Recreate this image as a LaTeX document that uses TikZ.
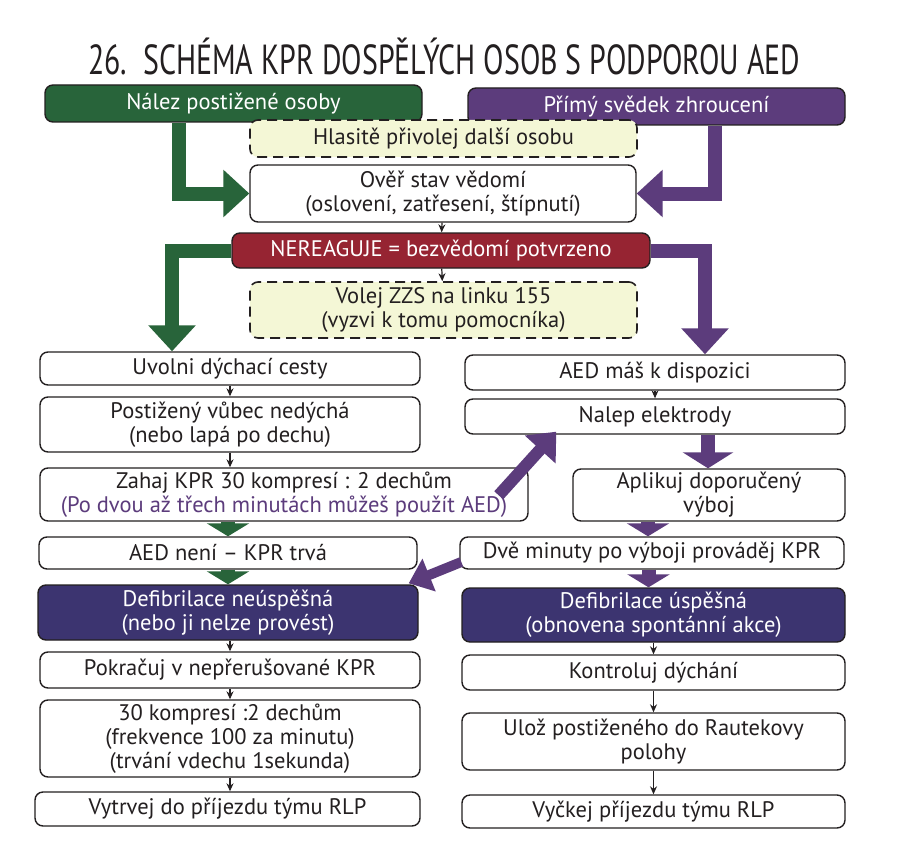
\documentclass[tikz,border=0pt]{standalone}
\usepackage{fontspec}
\setmainfont{PT Sans}
\usetikzlibrary{arrows.meta,calc}
\definecolor{kgreen}{RGB}{40,100,58}
\definecolor{kpurple}{RGB}{92,60,124}
\definecolor{kred}{RGB}{150,36,50}
\definecolor{knavy}{RGB}{60,52,112}
\definecolor{kyellow}{RGB}{244,247,214}
\definecolor{ktext}{RGB}{35,31,32}
\begin{document}
\begin{tikzpicture}[x=1pt,y=-1pt,
  box/.style={draw=ktext, line width=1.4pt, rounded corners=8pt, fill=white,
    align=center, inner sep=0pt, text=ktext, font=\fontsize{22.5}{24}\selectfont},
  dashbox/.style={box, fill=kyellow, line width=1.6pt, dash pattern=on 10pt off 6pt},
  gbox/.style={box, fill=kgreen, text=white},
  pbox/.style={box, fill=kpurple, text=white},
  rbox/.style={box, fill=kred, text=white},
  nbox/.style={box, fill=knavy, text=white},
  thinarr/.style={draw=ktext, line width=1.2pt, -{Stealth[length=8pt,width=7pt]}},
  garr/.style={draw=kgreen, line width=14pt, -{Triangle[length=26pt,width=46pt]}},
  parr/.style={draw=kpurple, line width=14pt, -{Triangle[length=26pt,width=46pt]}},
  gshort/.style={draw=kgreen, line width=14pt, -{Triangle[length=13pt,width=42pt]}},
  pshort/.style={draw=kpurple, line width=14pt, -{Triangle[length=13pt,width=42pt]}},
  pdiag/.style={draw=kpurple, line width=12pt, -{Triangle[length=24pt,width=40pt]}}
]
\fill[white] (0,0) rectangle (917,853);
\useasboundingbox (0,0) rectangle (917,853);

% title
\node[anchor=base west, inner sep=0pt, text=ktext, font=\fontsize{42}{46}\selectfont] (title) at (88,75)
  {\resizebox{712pt}{\height}{26.\ \ SCHÉMA KPR DOSPĚLÝCH OSOB S PODPOROU AED}};

% top
\node[gbox, minimum width=377pt, minimum height=37pt] (nalez) at (233.5,103.5) {Nález postižené osoby};
\node[pbox, minimum width=377pt, minimum height=37pt] (primy) at (656.5,106.5) {Přímý svědek zhroucení};
\node[dashbox, minimum width=387pt, minimum height=37pt] (hlas) at (443.5,138.5) {Hlasitě přivolej další osobu};
\node[box, minimum width=386pt, minimum height=57pt] (over) at (443,193.5) {Ověř stav vědomí\\(oslovení, zatřesení, štípnutí)};
\node[rbox, minimum width=418pt, minimum height=35pt] (red) at (441,250.5) {NEREAGUJE = bezvědomí potvrzeno};
\node[dashbox, minimum width=387pt, minimum height=56pt] (volej) at (443.5,310) {Volej ZZS na linku 155\\(vyzvi k tomu pomocníka)};

% left column
\node[box, minimum width=380pt, minimum height=33pt] (uvolni) at (230,368.5) {Uvolni dýchací cesty};
\node[box, minimum width=380pt, minimum height=55pt] (post) at (230,424.5) {Postižený vůbec nedýchá\\(nebo lapá po dechu)};
\node[box, minimum width=488pt, minimum height=53pt] (zahaj) at (284,494.5) {Zahaj KPR 30 kompresí : 2 dechům\\\textcolor{kpurple}{(Po dvou až třech minutách můžeš použít AED)}};
\node[box, minimum width=378pt, minimum height=32pt] (aedn) at (228,553) {AED není – KPR trvá};
\node[nbox, minimum width=380pt, minimum height=55pt] (defn) at (228,612.5) {Defibrilace neúspěšná\\(nebo ji nelze provést)};
\node[box, minimum width=380pt, minimum height=36pt] (pokr) at (230,670) {Pokračuj v nepřerušované KPR};
\node[box, minimum width=380pt, minimum height=77pt] (tricet) at (230,738.5) {30 kompresí :2 dechům\\(frekvence 100 za minutu)\\(trvání vdechu 1sekunda)};
\node[box, minimum width=385pt, minimum height=34pt] (vytr) at (227.5,809) {Vytrvej do příjezdu týmu RLP};

% right column
\node[box, minimum width=380pt, minimum height=35pt] (aedm) at (655,372.5) {AED máš k dispozici};
\node[box, minimum width=380pt, minimum height=35pt] (nalep) at (655,416.5) {Nalep elektrody};
\node[box, minimum width=272pt, minimum height=52pt] (aplikuj) at (709,495) {Aplikuj doporučený\\výboj};
\node[box, minimum width=384pt, minimum height=32pt] (dve) at (652,553) {Dvě minuty po výboji prováděj KPR};
\node[nbox, minimum width=383pt, minimum height=54pt] (defu) at (653.5,615) {Defibrilace úspěšná\\(obnovena spontánní akce)};
\node[box, minimum width=383pt, minimum height=35pt] (kontr) at (653.5,672.5) {Kontroluj dýchání};
\node[box, minimum width=383pt, minimum height=57pt] (uloz) at (653.5,741.5) {Ulož postiženého do Rautekovy\\polohy};
\node[box, minimum width=383pt, minimum height=33pt] (vyck) at (653.5,811.5) {Vyčkej příjezdu týmu RLP};

% thick connectors
\draw[garr] ([xshift=-55pt]nalez.south) |- (over.west);
\draw[parr] ([xshift=58pt]primy.south) |- (over.east);
\draw[garr] (red.west) -| ([xshift=-58pt]uvolni.north);
\draw[parr] (red.east) -| ([xshift=50pt]aedm.north);
\draw[pshort, -{Triangle[length=16pt,width=50pt]}] ([xshift=-1pt]aplikuj.north |- nalep.south) -- ([xshift=-1pt]aplikuj.north);
\draw[pshort] ([xshift=-4pt]dve.north |- aplikuj.south) -- ([xshift=-4pt]dve.north);
\draw[pshort] ([xshift=-5pt]defu.north |- dve.south) -- ([xshift=-5pt]defu.north);
\draw[gshort] (aedn.north |- zahaj.south) -- (aedn.north);
\draw[gshort] (defn.north |- aedn.south) -- (defn.north);
\coordinate (dtail) at ($(zahaj.north east)+(-30,28)$);
\coordinate (dtip) at ($(nalep.south west)+(92,-3)$);
\draw[pdiag] (dtail) -- (dtip);
\coordinate (etail) at ($(dve.west)+(2,9)$);
\coordinate (etip) at ($(defn.north east)+(-10,-1)$);
\draw[pdiag, line width=10pt, -{Triangle[length=22pt,width=34pt]}] (etail) -- (etip);

% thin connectors
\draw[thinarr] (over) -- (red);
\draw[thinarr] (red) -- (volej);
\draw[thinarr] (uvolni) -- (post);
\draw[thinarr] (post) -- (post |- zahaj.north);
\draw[thinarr] (aedm) -- (nalep);
\draw[thinarr] (defn.south -| pokr) -- (pokr);
\draw[thinarr] (pokr) -- (tricet);
\draw[thinarr] (tricet) -- (vytr.north -| tricet);
\draw[thinarr] (defu) -- (kontr);
\draw[thinarr] (kontr) -- (uloz);
\draw[thinarr] (uloz) -- (vyck);
\end{tikzpicture}
\end{document}
